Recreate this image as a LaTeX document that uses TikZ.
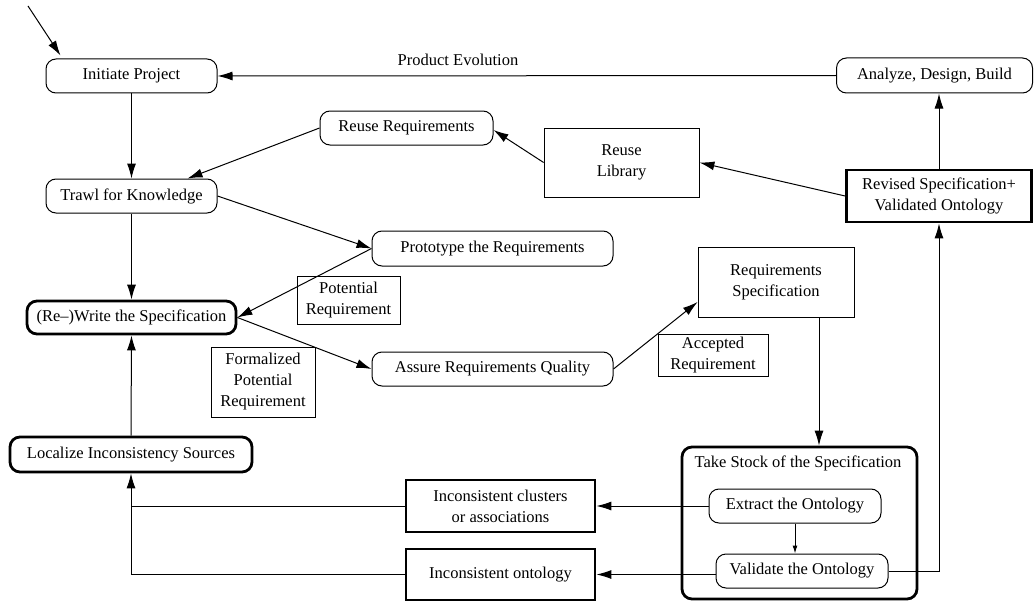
\documentclass[tikz,border=0pt]{standalone}
\usepackage{fontspec}
\setmainfont{Liberation Serif}
\usetikzlibrary{arrows.meta}
\begin{document}
\begin{tikzpicture}[x=1pt,y=-1pt,
  every node/.style={font=\fontsize{16.5}{21}\selectfont, inner sep=0pt, align=center},
  proc/.style={draw, line width=1pt, rounded corners=10pt},
  procthick/.style={draw, line width=2.8pt, rounded corners=10pt},
  store/.style={draw, line width=0.8pt},
  storethick/.style={draw, line width=2.8pt},
  lbl/.style={draw, line width=0.8pt},
  arr/.style={line width=1pt, -{Latex[length=15pt,width=9pt]}},
  smallarr/.style={line width=1pt, -{Latex[length=8pt,width=5pt]}},
  line/.style={line width=1pt}
]
\useasboundingbox (0,0) rectangle (1034,602);

% process steps
\node[proc, minimum width=171pt, minimum height=34pt] (init) at (131.5,76) {Initiate Project};
\node[proc, minimum width=196pt, minimum height=35pt] (analyze) at (934.5,75.5) {Analyze, Design, Build};
\node[proc, minimum width=171pt, minimum height=34pt] (trawl) at (131.5,196) {Trawl for Knowledge};
\node[proc, minimum width=173pt, minimum height=34pt] (reusereq) at (406.5,128) {Reuse Requirements};
\node[proc, minimum width=241pt, minimum height=35pt] (proto) at (492.5,248.5) {Prototype the Requirements};
\node[proc, minimum width=241pt, minimum height=34pt] (assure) at (492.5,369) {Assure Requirements Quality};
\node[procthick, minimum width=209pt, minimum height=33pt] (write) at (131.5,317.5) {(Re--)Write the Specification};
\node[procthick, minimum width=242pt, minimum height=35pt] (localize) at (131,454.5) {Localize Inconsistency Sources};

% composite step with its two sub-steps
\node[procthick, minimum width=235pt, minimum height=152pt] (stock) at (799.5,523) {};
\node (stocklbl) at (798,463) {Take Stock of the Specification};
\node[proc, minimum width=172pt, minimum height=34pt] (extract) at (795,506) {Extract the Ontology};
\node[proc, minimum width=172pt, minimum height=34pt] (validate) at (802,571) {Validate the Ontology};

% artefacts
\node[store, minimum width=155pt, minimum height=69pt] (lib) at (621.5,162.5) {Reuse\\Library};
\node[storethick, minimum width=185pt, minimum height=52pt] (revised) at (939,196) {Revised Specification+\\Validated Ontology};
\node[store, minimum width=156pt, minimum height=70pt] (reqspec) at (776,282) {Requirements\\Specification};
\node[storethick, minimum width=189pt, minimum height=52pt] (clusters) at (500.5,506) {Inconsistent clusters\\or associations};
\node[storethick, minimum width=189pt, minimum height=51pt] (ontology) at (500.5,574.5) {Inconsistent ontology};

% flow labels
\node[lbl, minimum width=103pt, minimum height=48pt] (potential) at (348.5,300) {Potential\\Requirement};
\node[lbl, minimum width=110pt, minimum height=42pt] (accepted) at (713,355) {Accepted\\Requirement};
\node[lbl, minimum width=104pt, minimum height=70pt] (formal) at (263,382) {Formalized\\Potential\\Requirement};
\node (evol) at (458,60) {Product Evolution};

% connectors
\coordinate (entry) at (28,6);
\draw[arr] (entry) -- ([xshift=15pt,yshift=3pt]init.north west);
\draw[arr] (analyze.west) -- (init.east);
\draw[arr] (init.south) -- (trawl.north);
\draw[arr] (reusereq.west) -- ([xshift=56pt]trawl.north);
\draw[arr] (lib.west) -- ([yshift=-2pt]reusereq.east);
\draw[arr] (revised.west) -- (lib.east);
\draw[arr] (revised.north) -- (revised.north |- analyze.south);
\draw[arr] (trawl.east) -- (proto.west);
\draw[arr] (proto.west) -- (write.east);
\draw[arr] (trawl.south) -- (write.north);
\draw[arr] (write.east) -- (assure.west);
\draw[arr] (assure.east) -- ([yshift=-20pt]reqspec.west);
\draw[arr] ([xshift=43pt]reqspec.south) -- ([xshift=43pt]reqspec.south |- stock.north);
\draw[arr] (localize.north) -- (write.south);
\draw[smallarr] (extract.south) -- (extract.south |- validate.north);
\draw[arr] (extract.west) -- (clusters.east);
\draw[arr] (ontology.east -| validate.west) -- (ontology.east);
\draw[line] (clusters.west) -- (clusters.west -| localize.south);
\draw[arr] (ontology.west) -- (ontology.west -| localize.south) -- (localize.south);
\draw[arr] (validate.east) -- (validate.east -| revised.south) -- (revised.south);
\end{tikzpicture}
\end{document}
